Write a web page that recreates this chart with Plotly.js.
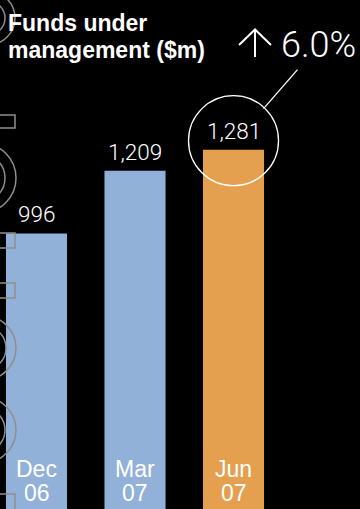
<!DOCTYPE html>
<html>
<head>
<meta charset="utf-8">
<script src="https://cdn.plot.ly/plotly-3.0.1.min.js"></script>
<style>html,body{margin:0;padding:0;background:#000;}#chart{width:360px;height:509px;}</style>
</head>
<body>
<div id="chart"></div>
<script>
// ---- data ----
var months = ['Dec', 'Mar', 'Jun'];
var years = ['06', '07', '07'];
var categories = ['Dec 06', 'Mar 07', 'Jun 07'];
var values = [996, 1209, 1281];
var valueLabels = ['996', '1,209', '1,281'];
var barColors = ['#92b1d8', '#92b1d8', '#e5a04f'];
var titleLines = ['Funds under', 'management ($m)'];
var changeText = '6.0%';
var highlightIndex = 2;

var W = 360, H = 509;
function px(x) { return x / W; }
function py(y) { return 1 - y / H; }

var trace = {
  type: 'bar',
  x: categories,
  y: values,
  marker: { color: barColors, line: { width: 0 } },
  hoverinfo: 'none'
};

var annotations = [];
for (var i = 0; i < categories.length; i++) {
  annotations.push({
    x: categories[i], y: values[i], xref: 'x', yref: 'y',
    text: valueLabels[i], showarrow: false,
    xanchor: 'center', yanchor: 'bottom', yshift: 4,
    font: { family: 'Roboto, Liberation Sans, Arial', size: 22.5, color: '#ffffff', weight: 300 }
  });
  annotations.push({
    x: categories[i], y: py(469), xref: 'x', yref: 'paper',
    text: months[i], showarrow: false, xanchor: 'center', yanchor: 'middle',
    font: { family: 'Liberation Sans, Arial', size: 23, color: '#ffffff' }
  });
  annotations.push({
    x: categories[i], y: py(492.5), xref: 'x', yref: 'paper',
    text: years[i], showarrow: false, xanchor: 'center', yanchor: 'middle',
    font: { family: 'Liberation Sans, Arial', size: 23, color: '#ffffff' }
  });
}
// title (two lines)
[[titleLines[0], 23], [titleLines[1], 50]].forEach(function (t) {
  annotations.push({
    x: px(6), y: py(t[1]), xref: 'paper', yref: 'paper',
    text: '<b>' + t[0] + '</b>', showarrow: false, align: 'left',
    xanchor: 'left', yanchor: 'middle',
    font: { family: 'Liberation Sans, Arial', size: 23, color: '#ffffff' }
  });
});
// change label
annotations.push({
  x: px(358), y: py(45), xref: 'paper', yref: 'paper',
  text: changeText, showarrow: false, xanchor: 'right', yanchor: 'middle',
  font: { family: 'Roboto, Liberation Sans, Arial', size: 36, color: '#ffffff', weight: 300 }
});

var gray = '#8e8e8e';
function P(x, y) { return px(x) + ',' + py(y); }
var shapes = [
  { type: 'circle', xref: 'x', yref: 'y', xsizemode: 'pixel', ysizemode: 'pixel',
    xanchor: categories[highlightIndex], yanchor: values[highlightIndex],
    x0: -45, x1: 45, y0: -36, y1: 54, line: { color: '#ffffff', width: 1.3 } },
  { type: 'line', xref: 'x', yref: 'y', xsizemode: 'pixel', ysizemode: 'pixel',
    xanchor: categories[highlightIndex], yanchor: values[highlightIndex],
    x0: 30, x1: 64, y0: 41, y1: 80, line: { color: '#ffffff', width: 1.3 } },
  // up arrow glyph
  { type: 'path', xref: 'paper', yref: 'paper',
    path: 'M' + P(255, 57) + 'L' + P(255, 30) + 'M' + P(239, 45) + 'L' + P(255, 29.5) + 'L' + P(271, 45),
    line: { color: '#ffffff', width: 2 } }
];
var rects = [[115, 128], [233, 248], [283, 298], [494, 512]];
rects.forEach(function (r) {
  shapes.push({ type: 'rect', xref: 'paper', yref: 'paper',
    x0: px(-6), x1: px(15), y0: py(r[0]), y1: py(r[1]),
    line: { color: gray, width: 1.5 } });
});
var circles = [[-12, 18, 27, 17], [-19, 178, 35, 24], [-16, 348, 32, 22], [-17, 430, 33, 22]];
circles.forEach(function (c) {
  shapes.push({ type: 'circle', xref: 'paper', yref: 'paper',
    x0: px(c[0] - c[2]), x1: px(c[0] + c[2]), y0: py(c[1] + c[2]), y1: py(c[1] - c[2]),
    line: { color: gray, width: 1.5 } });
  shapes.push({ type: 'circle', xref: 'paper', yref: 'paper',
    x0: px(c[0] - c[3]), x1: px(c[0] + c[3]), y0: py(c[1] + c[3]), y1: py(c[1] - c[3]),
    line: { color: gray, width: 1.5 } });
});

var layout = {
  width: W, height: H,
  margin: { l: 0, r: 0, t: 0, b: 0 },
  paper_bgcolor: '#000000', plot_bgcolor: '#000000',
  bargap: 0.38,
  showlegend: false,
  xaxis: { type: 'category', range: [-0.3706, 3.284], showticklabels: false,
    showgrid: false, zeroline: false, showline: false, ticks: '', fixedrange: true },
  yaxis: { range: [59, 1790], showticklabels: false, showgrid: false,
    zeroline: false, showline: false, ticks: '', fixedrange: true },
  annotations: annotations,
  shapes: shapes
};

Plotly.newPlot('chart', [trace], layout, { displayModeBar: false, staticPlot: true });
</script>
</body>
</html>
